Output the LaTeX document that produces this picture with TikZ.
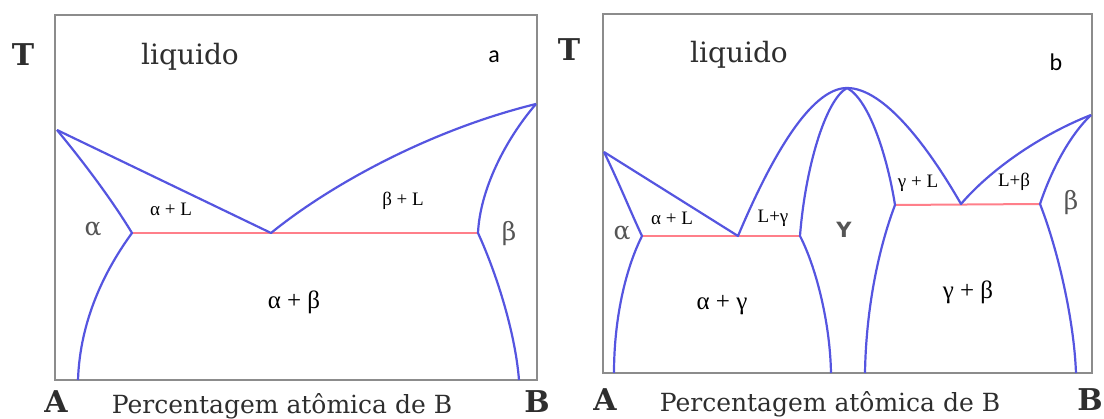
\documentclass[tikz,border=0pt]{standalone}
\usepackage{fontspec}
\setmainfont{DejaVu Serif}
\newfontfamily\timesfont{Liberation Serif}
\newfontfamily\tagfont{Carlito}
\newfontfamily\gammafont{DejaVu Sans}
\definecolor{bndblue}{HTML}{5555E0}
\definecolor{eutred}{HTML}{FF7F8A}
\definecolor{boxgray}{HTML}{8C8C8C}
\definecolor{ink}{HTML}{2E2E2E}
\definecolor{phgray}{HTML}{555555}

\begin{document}
\begin{tikzpicture}[x=1pt,y=-1pt,
  every node/.style={inner sep=0pt},
  box/.style={draw=boxgray,line width=1.8pt},
  bound/.style={draw=bndblue,line width=2.2pt,line join=round},
  eut/.style={draw=eutred,line width=2pt},
  axis/.style={font=\fontsize{30}{32}\selectfont\bfseries,text=ink},
  liq/.style={font=\fontsize{28}{30}\selectfont,text=ink},
  tag/.style={font=\tagfont\fontsize{24}{26}\selectfont},
  ph/.style={font=\fontsize{25}{27}\selectfont,text=phgray},
  sm/.style={font=\timesfont\fontsize{19}{21}\selectfont},
  md/.style={font=\timesfont\fontsize{25}{27}\selectfont},
  xlab/.style={font=\fontsize{25}{27}\selectfont,text=ink,anchor=base}
]
\useasboundingbox (0,0) rectangle (1104,419);

% diagram a
\draw[box] (55,15) rectangle (537,380);
\coordinate (aL) at (57,130);
\coordinate (aE) at (271,233);
\coordinate (aR) at (536,104);
\coordinate (aAl) at (132,233);
\coordinate (aBe) at (478,233);
\coordinate (aAlb) at (78,380);
\coordinate (aBeb) at (519,380);
\draw[eut] (aAl) -- (aBe);
\draw[bound] (aL) -- (aE) .. controls (330,185) and (430,130) .. (aR);
\draw[bound] (aL) .. controls (90,170) and (115,205) .. (aAl) .. controls (105,270) and (80,320) .. (aAlb);
\draw[bound] (aR) .. controls (505,140) and (480,190) .. (aBe) .. controls (495,270) and (515,330) .. (aBeb);
\node[axis] (aT) at (23,55) {T};
\node[liq] (aliq) at (190,57) {liquido};
\node[tag] (atag) at (494,57) {a};
\node[ph] (aalpha) at (93,229) {α};
\node[sm] (aalL) at (171,209) {α + L};
\node[sm] (abeL) at (403,201) {β + L};
\node[ph] (abeta) at (509,234) {β};
\node[md] (aab) at (294,302) {α + β};
\node[axis] (aA) at (56,402) {A};
\node[axis] (aB) at (537,402) {B};
\node[xlab] (axl) at (282,414) {Percentagem atômica de B};

% diagram b
\draw[box] (603,14) rectangle (1092,373);
\coordinate (bL) at (604,152);
\coordinate (bAl) at (642,236);
\coordinate (bE1) at (738,236);
\coordinate (bGl) at (800,236);
\coordinate (bTop) at (847,88);
\coordinate (bGr) at (895,205);
\coordinate (bE2) at (961,204);
\coordinate (bBe) at (1040,204);
\coordinate (bR) at (1091,115);
\coordinate (bAlb) at (614,373);
\coordinate (bGlb) at (831,373);
\coordinate (bGrb) at (865,373);
\coordinate (bBeb) at (1076,373);
\draw[eut] (bAl) -- (bGl);
\draw[eut] (bGr) -- (bBe);
\draw[bound] (bL) -- (bE1) .. controls (770,160) and (810,88) .. (bTop)
  .. controls (885,88) and (930,150) .. (bE2) .. controls (990,170) and (1040,135) .. (bR);
\draw[bound] (bL) .. controls (620,185) and (632,215) .. (bAl) .. controls (625,270) and (614,320) .. (bAlb);
\draw[bound] (bTop) .. controls (825,100) and (805,170) .. (bGl) .. controls (815,265) and (830,320) .. (bGlb);
\draw[bound] (bTop) .. controls (870,100) and (888,160) .. (bGr) .. controls (878,250) and (866,310) .. (bGrb);
\draw[bound] (bR) .. controls (1065,140) and (1048,180) .. (bBe) .. controls (1058,250) and (1074,320) .. (bBeb);
\node[axis] (bT) at (569,50) {T};
\node[liq] (bliq) at (739,55) {liquido};
\node[tag] (btag) at (1056,62) {b};
\node[ph] (balpha) at (622,233) {α};
\node[sm] (balL) at (672,218) {α + L};
\node[sm] (bLg) at (773,218) {L+γ};
\node[font=\gammafont\fontsize{21}{23}\selectfont\bfseries,text=phgray] (bY) at (844,230) {Y};
\node[sm] (bgL) at (918,183) {γ + L};
\node[sm] (bLb) at (1014,182) {L+β};
\node[ph] (bbeta) at (1071,203) {β};
\node[md] (bag) at (722,305) {α + γ};
\node[md] (bgb) at (968,292) {γ + β};
\node[axis] (bA) at (605,400) {A};
\node[axis] (bB) at (1090,400) {B};
\node[xlab] (bxl) at (830,412) {Percentagem atômica de B};
\end{tikzpicture}
\end{document}
